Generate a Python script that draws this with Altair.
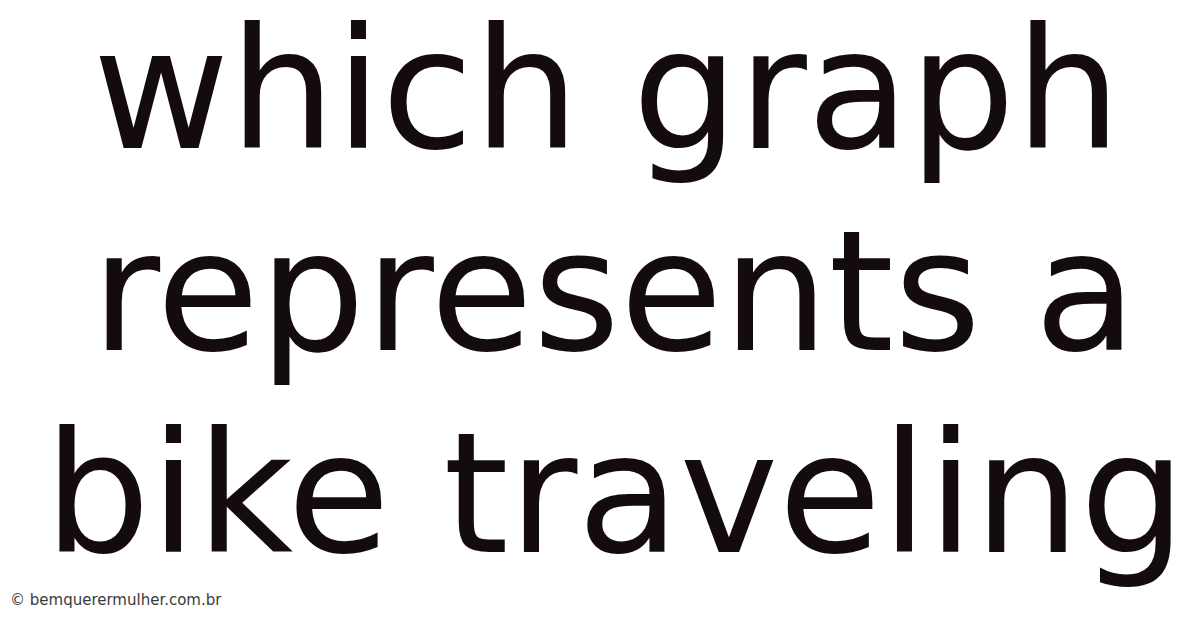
import altair as alt
import pandas as pd

lines = ["which graph", "represents a", "bike traveling"]
line_x = [607, 614, 615]
line_y = [148, 350, 552]

credit_text = ["© bemquerermulher.com.br"]
credit_x = [10]
credit_y = [605]

df_lines = pd.DataFrame({"text": lines, "x": line_x, "y": line_y})
df_credit = pd.DataFrame({"text": credit_text, "x": credit_x, "y": credit_y})

xs = alt.Scale(domain=[8, 1192], range=[0, 1184])
ys = alt.Scale(domain=[8, 620], range=[0, 612])

title = alt.Chart(df_lines).mark_text(
    font="DejaVu Sans", fontSize=167, color="#140c0c",
    align="center", baseline="alphabetic"
).encode(
    x=alt.X("x:Q", scale=xs, axis=None),
    y=alt.Y("y:Q", scale=ys, axis=None),
    text="text:N",
)

credit = alt.Chart(df_credit).mark_text(
    font="DejaVu Sans", fontSize=15, color="#3a3a3a",
    align="left", baseline="alphabetic"
).encode(
    x=alt.X("x:Q", scale=xs, axis=None),
    y=alt.Y("y:Q", scale=ys, axis=None),
    text="text:N",
)

chart = alt.layer(title, credit).properties(
    width=1184, height=612, padding=0, background="#ffffff"
).configure_view(stroke=None)

chart.save("out.html", embed_options={"renderer": "svg", "actions": False})
